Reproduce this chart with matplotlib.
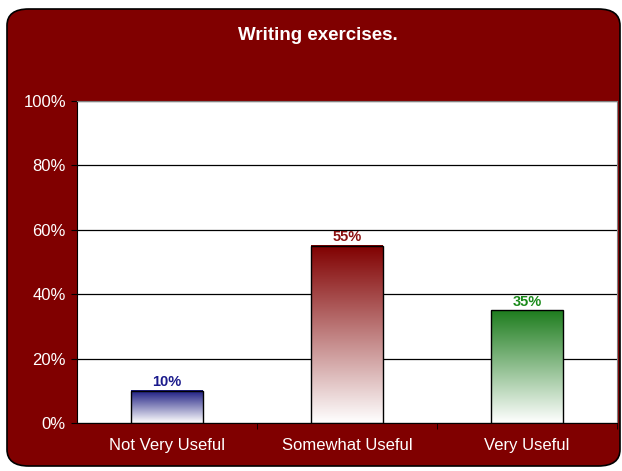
import numpy as np
import matplotlib.pyplot as plt
from matplotlib.colors import LinearSegmentedColormap
from matplotlib.patches import FancyBboxPatch

categories = ["Not Very Useful", "Somewhat Useful", "Very Useful"]
values = [10, 55, 35]
bar_colors = ["#1a1a80", "#800000", "#1e7d1e"]
label_colors = ["#1a1a8c", "#8b1010", "#1a8a1a"]
yticks = [0, 20, 40, 60, 80, 100]

plt.rcParams["font.family"] = ["Liberation Sans", "DejaVu Sans"]

fig = plt.figure(figsize=(6.22, 4.71), dpi=100)
fig.patch.set_facecolor("white")

# rounded dark red panel behind everything
panel = FancyBboxPatch((7 / 622, 5 / 471), 613 / 622, 457 / 471,
                       boxstyle="round,pad=0,rounding_size=0.035",
                       transform=fig.transFigure, facecolor="#800000",
                       edgecolor="black", linewidth=1.2, zorder=-1)
fig.patches.append(panel)

ax = fig.add_axes([77 / 622, 1 - 423 / 471, 540 / 622, 322 / 471])
ax.set_zorder(1)
ax.set_facecolor("white")

width = 0.4
grad = np.linspace(0, 1, 256).reshape(-1, 1)
for i, (v, c) in enumerate(zip(values, bar_colors)):
    cmap = LinearSegmentedColormap.from_list("g%d" % i, ["white", c])
    ax.imshow(grad, extent=[i - width / 2, i + width / 2, 0, v], origin="lower",
              aspect="auto", cmap=cmap, zorder=2)
    ax.bar(i, v, width=width, fill=False, edgecolor="black", linewidth=1, zorder=3)
    ax.text(i, v + 0.5, "%d%%" % v, ha="center", va="bottom", color=label_colors[i],
            fontsize=10.5, fontweight="bold", zorder=4)

ax.set_xlim(-0.5, 2.5)
ax.set_ylim(0, 100)
ax.set_yticks(yticks)
ax.set_yticklabels(["%d%%" % t for t in yticks], color="white", fontsize=12)
ax.yaxis.grid(True, color="black", linewidth=0.9)
ax.set_axisbelow(True)

ax.set_xticks(range(len(categories)))
ax.set_xticklabels(categories, color="white", fontsize=12)
ax.tick_params(axis="x", length=0, pad=11)
ax.set_xticks([0.5, 1.5, 2.5], minor=True)
ax.tick_params(axis="x", which="minor", length=4, color="black")
ax.tick_params(axis="y", length=4, color="black", pad=4)

for s in ["top", "right"]:
    ax.spines[s].set_color("#808080")
for s in ["left", "bottom"]:
    ax.spines[s].set_color("black")

fig.text(318 / 622, 1 - 36 / 471, "Writing exercises.", ha="center", va="center",
         color="white", fontsize=13.5, fontweight="bold")

plt.savefig("out.png", dpi=100, facecolor=fig.get_facecolor())
